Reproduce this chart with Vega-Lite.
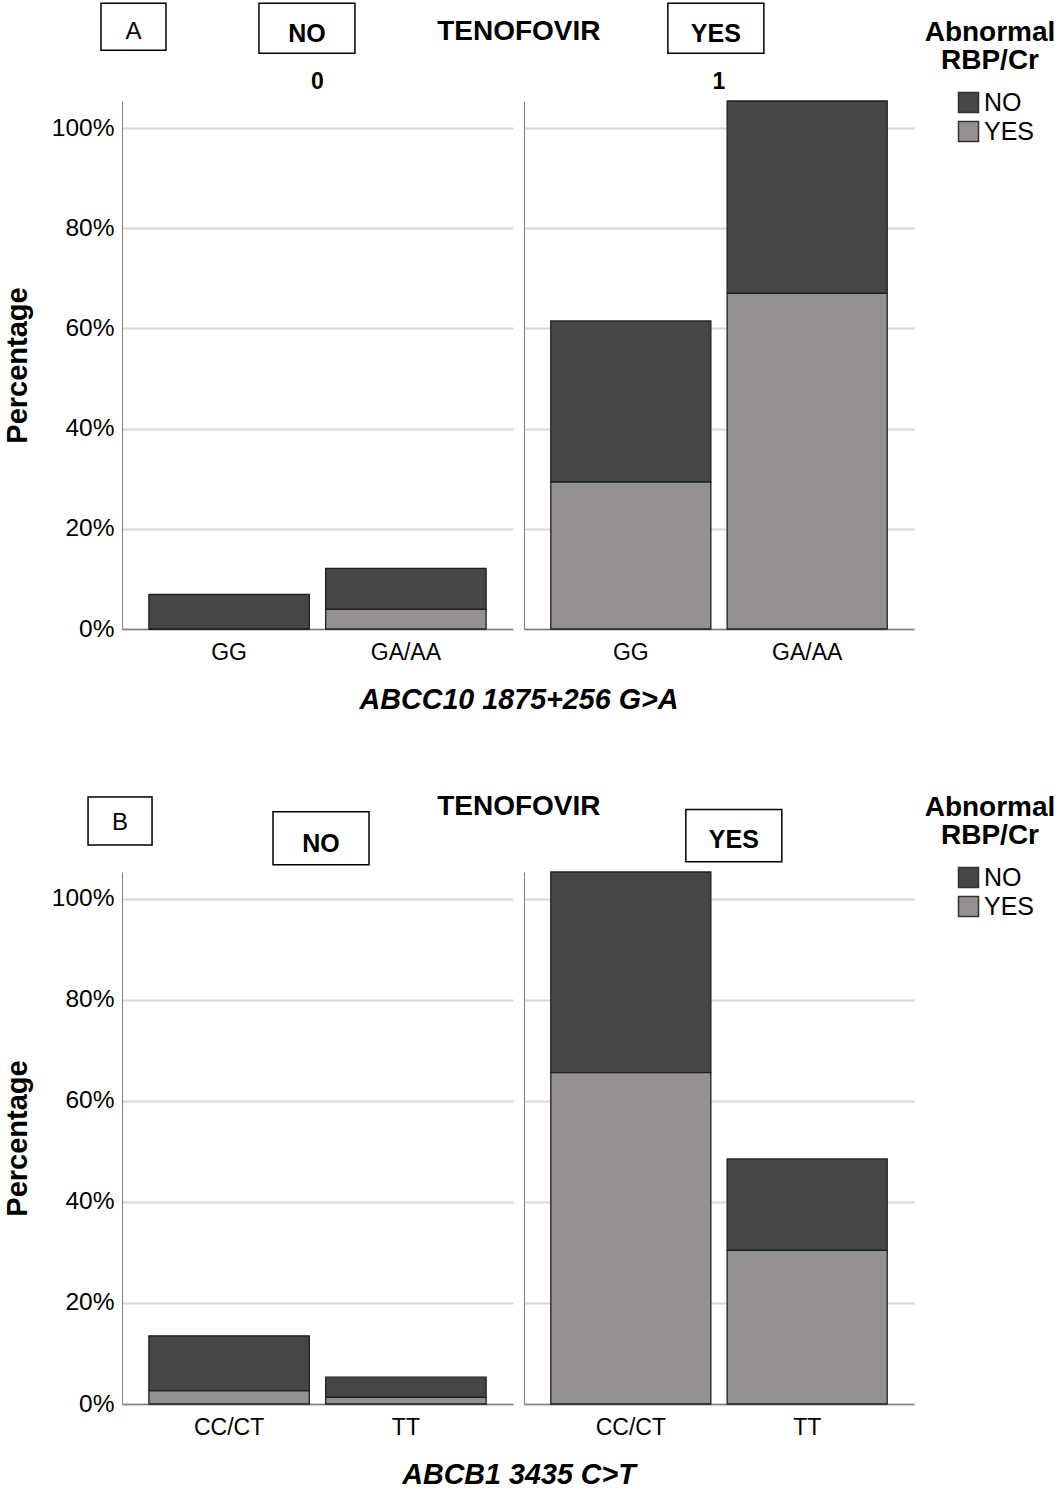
{
  "$schema": "https://vega.github.io/schema/vega-lite/v6.json",
  "background": "white",
  "padding": {"top": 0, "left": 3, "right": 0, "bottom": 0},
  "datasets": {
    "a": [
      {"panel": "A", "tenofovir": 0, "tlabel": "NO", "genotype": "GG", "rbp": "NO", "pct": 6.9},
      {"panel": "A", "tenofovir": 0, "tlabel": "NO", "genotype": "GG", "rbp": "YES", "pct": 0},
      {"panel": "A", "tenofovir": 0, "tlabel": "NO", "genotype": "GA/AA", "rbp": "NO", "pct": 8.2},
      {"panel": "A", "tenofovir": 0, "tlabel": "NO", "genotype": "GA/AA", "rbp": "YES", "pct": 3.9},
      {"panel": "A", "tenofovir": 1, "tlabel": "YES", "genotype": "GG", "rbp": "NO", "pct": 32.2},
      {"panel": "A", "tenofovir": 1, "tlabel": "YES", "genotype": "GG", "rbp": "YES", "pct": 29.3},
      {"panel": "A", "tenofovir": 1, "tlabel": "YES", "genotype": "GA/AA", "rbp": "NO", "pct": 38.4},
      {"panel": "A", "tenofovir": 1, "tlabel": "YES", "genotype": "GA/AA", "rbp": "YES", "pct": 67.0}
    ],
    "b": [
      {"panel": "B", "tenofovir": 0, "tlabel": "NO", "genotype": "CC/CT", "rbp": "NO", "pct": 10.9},
      {"panel": "B", "tenofovir": 0, "tlabel": "NO", "genotype": "CC/CT", "rbp": "YES", "pct": 2.6},
      {"panel": "B", "tenofovir": 0, "tlabel": "NO", "genotype": "TT", "rbp": "NO", "pct": 4.0},
      {"panel": "B", "tenofovir": 0, "tlabel": "NO", "genotype": "TT", "rbp": "YES", "pct": 1.3},
      {"panel": "B", "tenofovir": 1, "tlabel": "YES", "genotype": "CC/CT", "rbp": "NO", "pct": 39.7},
      {"panel": "B", "tenofovir": 1, "tlabel": "YES", "genotype": "CC/CT", "rbp": "YES", "pct": 65.6},
      {"panel": "B", "tenofovir": 1, "tlabel": "YES", "genotype": "TT", "rbp": "NO", "pct": 18.1},
      {"panel": "B", "tenofovir": 1, "tlabel": "YES", "genotype": "TT", "rbp": "YES", "pct": 30.4}
    ]
  },
  "vconcat": [
    {
      "data": {"name": "a"},
      "bounds": "flush",
      "spacing": 11,
      "hconcat": [
        {
          "width": 391, "height": 528,
          "transform": [{"filter": "datum.tenofovir == 0"}],
          "layer": [
            {
              "mark": {"type": "bar", "stroke": "#1f1f1f", "strokeWidth": 1.3},
              "encoding": {
                "x": {"field": "genotype", "type": "nominal", "sort": ["GG", "GA/AA"], "scale": {"paddingInner": 0.0925, "paddingOuter": 0.152}, "axis": {"title": "ABCC10 1875+256 G>A", "labelAngle": 0, "titleX": 396.5}},
                "y": {"field": "pct", "type": "quantitative", "stack": "zero", "scale": {"domain": [0, 105.4], "nice": false}, "axis": {"title": "Percentage", "values": [0, 20, 40, 60, 80, 100], "labelExpr": "datum.value + '%'"}},
                "color": {"field": "rbp", "type": "nominal", "scale": {"domain": ["NO", "YES"], "range": ["#454648", "#959190"]}, "legend": {"title": ["Abnormal", "RBP/Cr"], "orient": "none", "legendX": 803, "legendY": -82}},
                "order": {"field": "rbp", "sort": "descending"}
              }
            },
            {
              "transform": [{"aggregate": [{"op": "count", "as": "n"}], "groupby": ["tenofovir", "tlabel", "panel"]}],
              "layer": [
                {"mark": {"type": "point", "shape": "M-1,-0.723L1,-0.723L1,0.723L-1,0.723Z", "size": 4225, "filled": false, "stroke": "black", "strokeWidth": 1.5, "opacity": 1},
                 "encoding": {"x": {"datum": 0.0294, "type": "quantitative", "scale": {"domain": [0, 1]}, "axis": null}, "y": {"datum": 120.2, "type": "quantitative"}}},
                {"mark": {"type": "text", "fontSize": 24, "color": "black", "baseline": "middle", "align": "center"},
                 "encoding": {"x": {"datum": 0.0294, "type": "quantitative", "scale": {"domain": [0, 1]}, "axis": null}, "y": {"datum": 119.1, "type": "quantitative"}, "text": {"field": "panel"}}},
                {"mark": {"type": "point", "shape": "M-1,-0.521L1,-0.521L1,0.521L-1,0.521Z", "size": 9216, "filled": false, "stroke": "black", "strokeWidth": 1.5, "opacity": 1},
                 "encoding": {"x": {"datum": 0.473, "type": "quantitative", "scale": {"domain": [0, 1]}, "axis": null}, "y": {"datum": 119.9, "type": "quantitative"}}},
                {"mark": {"type": "text", "fontSize": 25, "fontWeight": "bold", "color": "black", "baseline": "middle", "align": "center"},
                 "encoding": {"x": {"datum": 0.473, "type": "quantitative", "scale": {"domain": [0, 1]}, "axis": null}, "y": {"datum": 118.8, "type": "quantitative"}, "text": {"field": "tlabel"}}},
                {"mark": {"type": "text", "text": "TENOFOVIR", "fontSize": 28, "fontWeight": "bold", "color": "black", "baseline": "middle", "align": "center"},
                 "encoding": {"x": {"datum": 1.015, "type": "quantitative", "scale": {"domain": [0, 1]}, "axis": null}, "y": {"datum": 119.1, "type": "quantitative"}}},
                {"mark": {"type": "text", "fontSize": 23, "fontWeight": "bold", "color": "black", "baseline": "middle", "align": "center"},
                 "encoding": {"x": {"datum": 0.5, "type": "quantitative", "scale": {"domain": [0, 1]}, "axis": null}, "y": {"datum": 109.1, "type": "quantitative"}, "text": {"field": "tenofovir"}}}
              ]
            }
          ],
          "resolve": {"scale": {"x": "independent"}, "axis": {"x": "independent"}}
        },
        {
          "width": 390, "height": 528,
          "transform": [{"filter": "datum.tenofovir == 1"}],
          "layer": [
            {
              "mark": {"type": "bar", "stroke": "#1f1f1f", "strokeWidth": 1.3},
              "encoding": {
                "x": {"field": "genotype", "type": "nominal", "sort": ["GG", "GA/AA"], "scale": {"paddingInner": 0.0925, "paddingOuter": 0.152}, "axis": {"title": null, "labelAngle": 0}},
                "y": {"field": "pct", "type": "quantitative", "stack": "zero", "scale": {"domain": [0, 105.4], "nice": false}, "axis": {"title": null, "labels": false, "values": [0, 20, 40, 60, 80, 100]}},
                "color": {"field": "rbp", "type": "nominal", "scale": {"domain": ["NO", "YES"], "range": ["#454648", "#959190"]}, "legend": {"title": ["Abnormal", "RBP/Cr"], "orient": "none", "legendX": 803, "legendY": -82}},
                "order": {"field": "rbp", "sort": "descending"}
              }
            },
            {
              "transform": [{"aggregate": [{"op": "count", "as": "n"}], "groupby": ["tenofovir", "tlabel", "panel"]}],
              "layer": [
                {"mark": {"type": "point", "shape": "M-1,-0.521L1,-0.521L1,0.521L-1,0.521Z", "size": 9216, "filled": false, "stroke": "black", "strokeWidth": 1.5, "opacity": 1},
                 "encoding": {"x": {"datum": 0.492, "type": "quantitative", "scale": {"domain": [0, 1]}, "axis": null}, "y": {"datum": 119.9, "type": "quantitative"}}},
                {"mark": {"type": "text", "fontSize": 25, "fontWeight": "bold", "color": "black", "baseline": "middle", "align": "center"},
                 "encoding": {"x": {"datum": 0.492, "type": "quantitative", "scale": {"domain": [0, 1]}, "axis": null}, "y": {"datum": 118.8, "type": "quantitative"}, "text": {"field": "tlabel"}}},
                {"mark": {"type": "text", "fontSize": 23, "fontWeight": "bold", "color": "black", "baseline": "middle", "align": "center"},
                 "encoding": {"x": {"datum": 0.5, "type": "quantitative", "scale": {"domain": [0, 1]}, "axis": null}, "y": {"datum": 109.1, "type": "quantitative"}, "text": {"field": "tenofovir"}}}
              ]
            }
          ],
          "resolve": {"scale": {"x": "independent"}, "axis": {"x": "independent"}}
        }
      ]
    },
    {
      "data": {"name": "b"},
      "bounds": "flush",
      "spacing": 11,
      "hconcat": [
        {
          "width": 391, "height": 532,
          "transform": [{"filter": "datum.tenofovir == 0"}],
          "layer": [
            {
              "mark": {"type": "bar", "stroke": "#1f1f1f", "strokeWidth": 1.3},
              "encoding": {
                "x": {"field": "genotype", "type": "nominal", "sort": ["CC/CT", "TT"], "scale": {"paddingInner": 0.0925, "paddingOuter": 0.152}, "axis": {"title": "ABCB1 3435 C>T", "labelAngle": 0, "titleX": 396.5}},
                "y": {"field": "pct", "type": "quantitative", "stack": "zero", "scale": {"domain": [0, 105.3], "nice": false}, "axis": {"title": "Percentage", "values": [0, 20, 40, 60, 80, 100], "labelExpr": "datum.value + '%'"}},
                "color": {"field": "rbp", "type": "nominal", "scale": {"domain": ["NO", "YES"], "range": ["#454648", "#959190"]}, "legend": {"title": ["Abnormal", "RBP/Cr"], "orient": "none", "legendX": 803, "legendY": -78}},
                "order": {"field": "rbp", "sort": "descending"}
              }
            },
            {
              "transform": [{"aggregate": [{"op": "count", "as": "n"}], "groupby": ["tenofovir", "tlabel", "panel"]}],
              "layer": [
                {"mark": {"type": "point", "shape": "M-1,-0.75L1,-0.75L1,0.75L-1,0.75Z", "size": 4096, "filled": false, "stroke": "black", "strokeWidth": 1.5, "opacity": 1},
                 "encoding": {"x": {"datum": -0.005, "type": "quantitative", "scale": {"domain": [0, 1]}, "axis": null}, "y": {"datum": 115.4, "type": "quantitative"}}},
                {"mark": {"type": "text", "fontSize": 24, "color": "black", "baseline": "middle", "align": "center"},
                 "encoding": {"x": {"datum": -0.005, "type": "quantitative", "scale": {"domain": [0, 1]}, "axis": null}, "y": {"datum": 114.9, "type": "quantitative"}, "text": {"field": "panel"}}},
                {"mark": {"type": "point", "shape": "M-1,-0.552L1,-0.552L1,0.552L-1,0.552Z", "size": 9216, "filled": false, "stroke": "black", "strokeWidth": 1.5, "opacity": 1},
                 "encoding": {"x": {"datum": 0.509, "type": "quantitative", "scale": {"domain": [0, 1]}, "axis": null}, "y": {"datum": 112.0, "type": "quantitative"}}},
                {"mark": {"type": "text", "fontSize": 25, "fontWeight": "bold", "color": "black", "baseline": "middle", "align": "center"},
                 "encoding": {"x": {"datum": 0.509, "type": "quantitative", "scale": {"domain": [0, 1]}, "axis": null}, "y": {"datum": 110.8, "type": "quantitative"}, "text": {"field": "tlabel"}}},
                {"mark": {"type": "text", "text": "TENOFOVIR", "fontSize": 28, "fontWeight": "bold", "color": "black", "baseline": "middle", "align": "center"},
                 "encoding": {"x": {"datum": 1.015, "type": "quantitative", "scale": {"domain": [0, 1]}, "axis": null}, "y": {"datum": 118.2, "type": "quantitative"}}}
              ]
            }
          ],
          "resolve": {"scale": {"x": "independent"}, "axis": {"x": "independent"}}
        },
        {
          "width": 390, "height": 532,
          "transform": [{"filter": "datum.tenofovir == 1"}],
          "layer": [
            {
              "mark": {"type": "bar", "stroke": "#1f1f1f", "strokeWidth": 1.3},
              "encoding": {
                "x": {"field": "genotype", "type": "nominal", "sort": ["CC/CT", "TT"], "scale": {"paddingInner": 0.0925, "paddingOuter": 0.152}, "axis": {"title": null, "labelAngle": 0}},
                "y": {"field": "pct", "type": "quantitative", "stack": "zero", "scale": {"domain": [0, 105.3], "nice": false}, "axis": {"title": null, "labels": false, "values": [0, 20, 40, 60, 80, 100]}},
                "color": {"field": "rbp", "type": "nominal", "scale": {"domain": ["NO", "YES"], "range": ["#454648", "#959190"]}, "legend": {"title": ["Abnormal", "RBP/Cr"], "orient": "none", "legendX": 803, "legendY": -78}},
                "order": {"field": "rbp", "sort": "descending"}
              }
            },
            {
              "transform": [{"aggregate": [{"op": "count", "as": "n"}], "groupby": ["tenofovir", "tlabel", "panel"]}],
              "layer": [
                {"mark": {"type": "point", "shape": "M-1,-0.542L1,-0.542L1,0.542L-1,0.542Z", "size": 9216, "filled": false, "stroke": "black", "strokeWidth": 1.5, "opacity": 1},
                 "encoding": {"x": {"datum": 0.538, "type": "quantitative", "scale": {"domain": [0, 1]}, "axis": null}, "y": {"datum": 112.5, "type": "quantitative"}}},
                {"mark": {"type": "text", "fontSize": 25, "fontWeight": "bold", "color": "black", "baseline": "middle", "align": "center"},
                 "encoding": {"x": {"datum": 0.538, "type": "quantitative", "scale": {"domain": [0, 1]}, "axis": null}, "y": {"datum": 111.6, "type": "quantitative"}, "text": {"field": "tlabel"}}}
              ]
            }
          ],
          "resolve": {"scale": {"x": "independent"}, "axis": {"x": "independent"}}
        }
      ]
    }
  ],
  "spacing": 78,
  "resolve": {"scale": {"color": "independent"}, "legend": {"color": "independent"}},
  "config": {
    "font": "Liberation Sans",
    "view": {"stroke": null},
    "axis": {"labelColor": "black", "titleColor": "black", "ticks": false, "domainColor": "#808080"},
    "axisY": {"gridColor": "#d6d6d6", "gridWidth": 2, "domainWidth": 1, "labelFontSize": 24.5, "labelPadding": 8, "titleFontSize": 29, "titleFontWeight": "bold", "titlePadding": 19},
    "axisX": {"grid": false, "domainWidth": 1.5, "labelFontSize": 23, "labelPadding": 12, "titleFontSize": 28.7, "titleFontWeight": "bold", "titleFontStyle": "italic", "titlePadding": 21},
    "legend": {"titleFontSize": 28, "titleFontWeight": "bold", "titleColor": "black", "labelFontSize": 25, "labelColor": "black", "symbolType": "square", "symbolSize": 400, "symbolStrokeColor": "#333333", "symbolStrokeWidth": 1.5, "labelOffset": 3, "rowPadding": 2, "titleAlign": "center", "titleAnchor": "middle", "titleLineHeight": 28, "titlePadding": 15, "symbolOffset": 10, "padding": 0}
  }
}
